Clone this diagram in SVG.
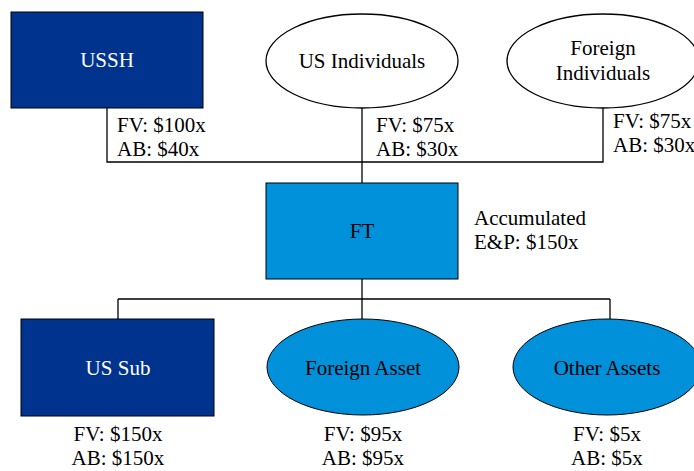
<svg xmlns="http://www.w3.org/2000/svg" width="694" height="471" viewBox="0 0 694 471">
<style>
text{font-family:"Liberation Serif","Times New Roman",serif;font-size:21px;fill:#000}
.w{fill:#fff}
.c{text-anchor:middle}
.dk{fill:#00338D;stroke:#000;stroke-width:1}
.lt{fill:#0091DA;stroke:#000;stroke-width:1}
.el{fill:#fff;stroke:#000;stroke-width:1.3}
.ln{fill:none;stroke:#000;stroke-width:1.3}
</style>
<rect width="694" height="471" fill="#fff"/>
<g id="connectors">
<path class="ln" d="M107 108V162H603V108"/>
<path class="ln" d="M362 108V183"/>
<path class="ln" d="M362 279V299M118 299H610M118 299V319M362 299V319M610 299V319"/>
</g>
<g id="ussh">
<rect class="dk" x="11" y="12" width="192" height="96"/>
<text class="w c" x="107" y="67">USSH</text>
<text x="117" y="132">FV: $100x</text>
<text x="117" y="156">AB: $40x</text>
</g>
<g id="us-individuals">
<ellipse class="el" cx="362" cy="61" rx="96" ry="47"/>
<text class="c" x="362" y="68">US Individuals</text>
<text x="376" y="132">FV: $75x</text>
<text x="376" y="156">AB: $30x</text>
</g>
<g id="foreign-individuals">
<ellipse class="el" cx="603" cy="61" rx="96" ry="47"/>
<text class="c" x="603" y="55">Foreign</text>
<text class="c" x="603" y="80">Individuals</text>
<text x="613" y="128">FV: $75x</text>
<text x="613" y="152">AB: $30x</text>
</g>
<g id="ft">
<rect class="lt" x="266" y="183" width="192" height="96"/>
<text class="c" x="362" y="238">FT</text>
<text x="474" y="225">Accumulated</text>
<text x="474" y="249">E&amp;P: $150x</text>
</g>
<g id="us-sub">
<rect class="dk" x="21" y="319" width="193" height="97"/>
<text class="w c" x="118" y="375">US Sub</text>
<text class="c" x="118" y="441">FV: $150x</text>
<text class="c" x="118" y="465">AB: $150x</text>
</g>
<g id="foreign-asset">
<ellipse class="lt" cx="363" cy="367" rx="96" ry="48"/>
<text class="c" x="363" y="375">Foreign Asset</text>
<text class="c" x="363" y="441">FV: $95x</text>
<text class="c" x="363" y="465">AB: $95x</text>
</g>
<g id="other-assets">
<ellipse class="lt" cx="607" cy="367" rx="94" ry="48"/>
<text class="c" x="607" y="375">Other Assets</text>
<text class="c" x="607" y="441">FV: $5x</text>
<text class="c" x="607" y="465">AB: $5x</text>
</g>
</svg>
